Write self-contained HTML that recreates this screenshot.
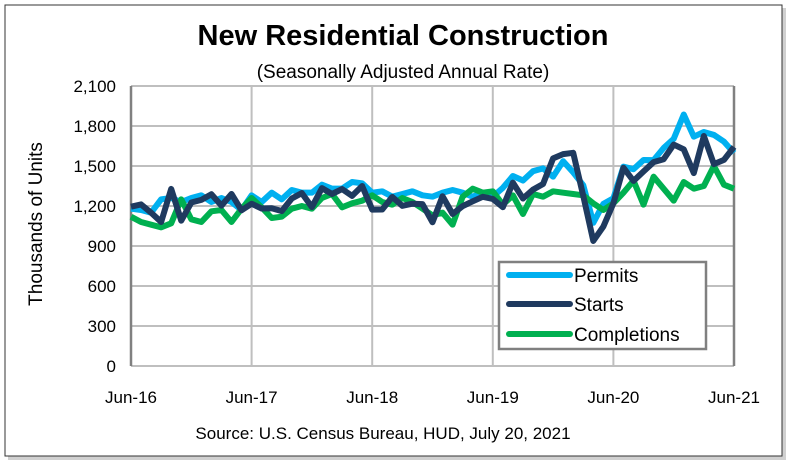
<!DOCTYPE html>
<html><head><meta charset="utf-8"><style>
body{margin:0;background:#fff;}
svg{display:block;font-family:"Liberation Sans",sans-serif;}
</style></head><body>
<svg id="c" width="792" height="466" viewBox="0 0 792 466">
<rect x="8" y="8" width="778" height="452" fill="#d0d0d0"/>
<rect x="5" y="5" width="777" height="451" fill="#fff" stroke="#333" stroke-width="1"/>
<text x="403" y="45" text-anchor="middle" font-size="29" font-weight="bold">New Residential Construction</text>
<text x="403" y="78" text-anchor="middle" font-size="19">(Seasonally Adjusted Annual Rate)</text>
<text transform="translate(42,224) rotate(-90)" text-anchor="middle" font-size="19">Thousands of Units</text>
<text x="383" y="439" text-anchor="middle" font-size="17">Source:  U.S. Census Bureau, HUD, July 20, 2021</text>
<g id="grid"></g><g id="axes"></g><g id="series"></g>
<g>
<rect x="499" y="262" width="207" height="87" fill="#fff" stroke="#808080" stroke-width="2.5"/>
<line x1="509" y1="275" x2="570" y2="275" stroke="#00b0f0" stroke-width="6" stroke-linecap="round"/>
<text x="574" y="282" font-size="19">Permits</text>
<line x1="509" y1="304" x2="570" y2="304" stroke="#1f3a5f" stroke-width="6" stroke-linecap="round"/>
<text x="574" y="311" font-size="19">Starts</text>
<line x1="509" y1="334" x2="570" y2="334" stroke="#00b050" stroke-width="6" stroke-linecap="round"/>
<text x="574" y="341" font-size="19">Completions</text>
</g>
</svg>
<script>
const yTicks=[0,300,600,900,1200,1500,1800,2100];
const yTickLabels=["0","300","600","900","1,200","1,500","1,800","2,100"];
const xTickIdx=[0,12,24,36,48,60];
const xTickLabels=["Jun-16","Jun-17","Jun-18","Jun-19","Jun-20","Jun-21"];
const permits=[1180,1170,1150,1250,1260,1230,1260,1280,1230,1260,1230,1170,1280,1230,1300,1250,1320,1300,1300,1360,1330,1330,1380,1370,1300,1310,1270,1290,1310,1280,1270,1300,1320,1300,1270,1300,1270,1336,1425,1391,1461,1482,1420,1536,1452,1356,1074,1216,1258,1495,1476,1545,1544,1635,1704,1886,1720,1755,1733,1683,1598];
const starts=[1195,1212,1150,1080,1328,1090,1226,1246,1288,1203,1290,1168,1217,1181,1183,1162,1256,1297,1192,1334,1290,1327,1276,1350,1173,1174,1268,1201,1217,1214,1078,1273,1140,1199,1235,1269,1253,1191,1375,1256,1323,1365,1557,1589,1599,1276,938,1046,1220,1487,1388,1459,1529,1551,1661,1625,1447,1725,1514,1546,1643];
const completions=[1120,1080,1060,1040,1070,1250,1100,1080,1160,1170,1080,1180,1260,1190,1110,1120,1180,1200,1180,1260,1290,1190,1220,1240,1280,1230,1210,1260,1230,1180,1130,1150,1060,1270,1330,1300,1310,1210,1280,1140,1290,1270,1310,1300,1290,1280,1220,1170,1220,1300,1390,1210,1420,1330,1240,1380,1330,1350,1500,1360,1330];
const NS="http://www.w3.org/2000/svg";
const X0=131,X1=734,Y0=366,Y1=86;
const xs=i=>X0+(X1-X0)*i/60;
const ys=v=>Y0-(Y0-Y1)*v/2100;
function mk(t,a,p){const e=document.createElementNS(NS,t);for(const k in a)e.setAttribute(k,a[k]);p.appendChild(e);return e;}
const grid=document.getElementById('grid'),axes=document.getElementById('axes'),ser=document.getElementById('series');
yTicks.forEach((v,i)=>{
 const l=mk('line',{x1:X0,x2:X1,y1:ys(v),y2:ys(v),stroke:'#bfbfbf','stroke-width':2},grid);
 
 
 const t=mk('text',{x:X0-15,y:ys(v)+6,'text-anchor':'end','font-size':17},axes);
 t.textContent=yTickLabels[i];
 
 
});
xTickIdx.forEach((m,i)=>{
 const l=mk('line',{x1:xs(m),x2:xs(m),y1:Y1,y2:Y0,stroke:'#bfbfbf','stroke-width':2},grid);
 
 
 const t=mk('text',{x:xs(m),y:403,'text-anchor':'middle','font-size':17},axes);
 t.textContent=xTickLabels[i];
 
 
});
const la=mk('line',{x1:X0,x2:X0,y1:Y1,y2:Y0,stroke:'#808080','stroke-width':2.5},axes);


const ra=mk('line',{x1:X1,x2:X1,y1:Y1,y2:Y0,stroke:'#808080','stroke-width':2.5},axes);


[[permits,'#00b0f0','permits-line'],[completions,'#00b050','completions-line'],[starts,'#1f3a5f','starts-line']].forEach(([d,c,n])=>{
 const p=mk('polyline',{points:d.map((v,i)=>xs(i)+','+ys(v)).join(' '),fill:'none',stroke:c,'stroke-width':6,'stroke-linejoin':'round'},ser);
 
 
});
</script>
</body></html>
